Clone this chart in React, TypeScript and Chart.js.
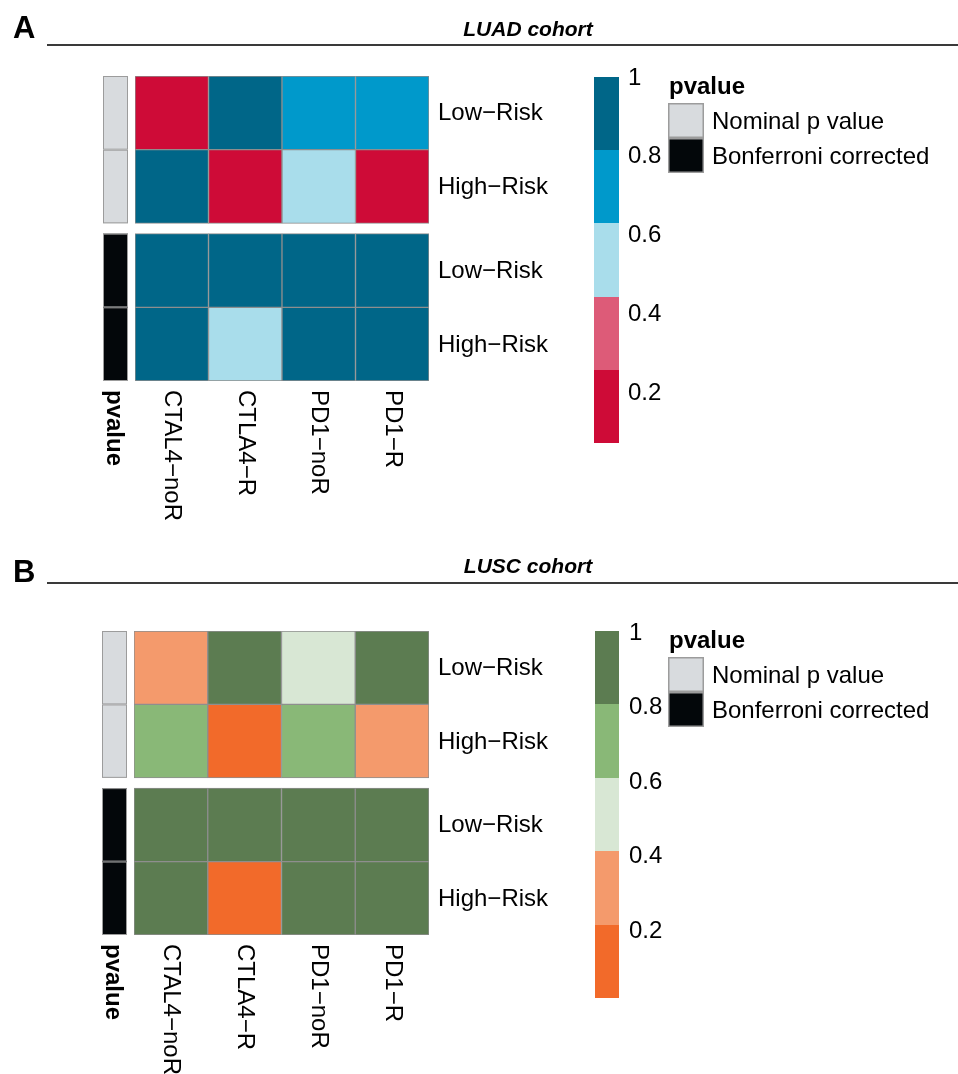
import React, { useEffect, useRef } from "react";
import { Chart, registerables } from "chart.js";

Chart.register(...registerables);

// ---------- data ----------
const columns = ["CTAL4−noR", "CTLA4−R", "PD1−noR", "PD1−R"];
const rowLabels = ["Low−Risk", "High−Risk", "Low−Risk", "High−Risk"];
const rowGroupIndex = [0, 0, 1, 1];
const groupNames = ["Nominal p value", "Bonferroni corrected"];
const annotationTitle = "pvalue";
const legendTickLabels = ["1", "0.8", "0.6", "0.4", "0.2"];
const legendBreaks = [0, 0.2, 0.4, 0.6, 0.8, 1];

// LUAD cohort p values (rows: nominal low, nominal high, bonferroni low, bonferroni high)
const luadNominalLow = [0.08, 0.91, 0.74, 0.69];
const luadNominalHigh = [0.88, 0.07, 0.57, 0.12];
const luadBonfLow = [1, 1, 1, 1];
const luadBonfHigh = [1, 0.56, 1, 1];

// LUSC cohort p values
const luscNominalLow = [0.33, 0.86, 0.52, 0.95];
const luscNominalHigh = [0.71, 0.02, 0.68, 0.27];
const luscBonfLow = [1, 1, 1, 1];
const luscBonfHigh = [1, 0.16, 1, 1];

// colour bins (0-0.2, 0.2-0.4, 0.4-0.6, 0.6-0.8, 0.8-1)
const luadColors = ["#CE0B37", "#DD5B78", "#A9DDEB", "#0099CB", "#006688"];
const luscColors = ["#F26A2A", "#F49A6C", "#D8E7D4", "#89B877", "#5C7C51"];
const groupColors = ["#D8DBDE", "#03070A"];

// ---------- layout (per panel) ----------
const W = 958;
const H = 537;
const FONT = "'Liberation Sans', Arial, Helvetica, sans-serif";

const layoutA = {
  letter: "A", title: "LUAD cohort",
  letterBaseline: 38, titleY: 30, lineY: 45,
  heatTop: 76, heatBottom: 381, heatLeft: 135, heatRight: 429,
  annLeft: 103, annRight: 128,
  barTop: 77, barHeight: 366, barLeft: 594, barRight: 619,
  tickStart: 78, tickStep: 78.8,
};
const layoutB = {
  letter: "B", title: "LUSC cohort",
  letterBaseline: 45, titleY: 30, lineY: 46,
  heatTop: 94, heatBottom: 398, heatLeft: 134, heatRight: 429,
  annLeft: 102, annRight: 127,
  barTop: 94, barHeight: 367, barLeft: 595, barRight: 619,
  tickStart: 96, tickStep: 74.5,
};

const GAP = 0.14; // gap between row groups, in row units
const rowStart = (r: number) => r + rowGroupIndex[r] * GAP;

function colorFor(v: number, palette: string[]) {
  for (let i = 0; i < palette.length; i++) {
    if (v < legendBreaks[i + 1]) return palette[i];
  }
  return palette[palette.length - 1];
}

function Panel({ rows, palette, layout }: { rows: number[][]; palette: string[]; layout: any }) {
  const ref = useRef<HTMLCanvasElement | null>(null);
  useEffect(() => {
    if (!ref.current) return;
    const L = layout;
    const decor = {
      id: "decor",
      afterDraw(chart: any) {
        const ctx = chart.ctx as CanvasRenderingContext2D;
        const x = chart.scales.x;
        const y = chart.scales.y;
        ctx.save();
        // panel letter
        ctx.fillStyle = "#000";
        ctx.font = `bold 31px ${FONT}`;
        ctx.textAlign = "left";
        ctx.textBaseline = "alphabetic";
        ctx.fillText(L.letter, 13, L.letterBaseline);
        // title
        ctx.font = `italic bold 21px ${FONT}`;
        ctx.textAlign = "center";
        ctx.textBaseline = "middle";
        ctx.fillText(L.title, 528, L.titleY);
        // rule
        ctx.strokeStyle = "#3a3a3a";
        ctx.lineWidth = 2;
        ctx.beginPath();
        ctx.moveTo(47, L.lineY);
        ctx.lineTo(W, L.lineY);
        ctx.stroke();

        // annotation column
        rows.forEach((_, r) => {
          const top = y.getPixelForValue(rowStart(r));
          const bot = y.getPixelForValue(rowStart(r) + 1);
          ctx.fillStyle = groupColors[rowGroupIndex[r]];
          ctx.fillRect(L.annLeft, top, L.annRight - L.annLeft, bot - top);
          ctx.strokeStyle = "#9C9C9C";
          ctx.lineWidth = 1;
          ctx.strokeRect(L.annLeft + 0.5, top + 0.5, L.annRight - L.annLeft - 1, bot - top - 1);
        });

        // row labels
        ctx.fillStyle = "#000";
        ctx.font = `24px ${FONT}`;
        ctx.textAlign = "left";
        ctx.textBaseline = "middle";
        rowLabels.forEach((lab, r) => {
          const c = y.getPixelForValue(rowStart(r) + 0.5);
          ctx.fillText(lab, L.heatRight + 9, c + 1);
        });

        // column labels (rotated, reading downward)
        const labTop = L.heatBottom + 9;
        columns.forEach((lab, i) => {
          const cx = x.getPixelForValue(i);
          ctx.save();
          ctx.translate(cx, labTop);
          ctx.rotate(Math.PI / 2);
          ctx.font = `24px ${FONT}`;
          ctx.textAlign = "left";
          ctx.textBaseline = "middle";
          ctx.fillText(lab, 0, 0);
          ctx.restore();
        });
        ctx.save();
        ctx.translate((L.annLeft + L.annRight) / 2 - 2, labTop);
        ctx.rotate(Math.PI / 2);
        ctx.font = `bold 24px ${FONT}`;
        ctx.textAlign = "left";
        ctx.textBaseline = "middle";
        ctx.fillText(annotationTitle, 0, 0);
        ctx.restore();

        // colour legend bar
        const segH = L.barHeight / palette.length;
        palette.forEach((col, i) => {
          const segTop = L.barTop + L.barHeight - (i + 1) * segH;
          ctx.fillStyle = col;
          ctx.fillRect(L.barLeft, Math.round(segTop), L.barRight - L.barLeft, Math.round(segTop + segH) - Math.round(segTop));
        });
        ctx.fillStyle = "#000";
        ctx.font = `24px ${FONT}`;
        ctx.textAlign = "left";
        ctx.textBaseline = "middle";
        legendTickLabels.forEach((t, i) => {
          ctx.fillText(t, L.barLeft + 34, L.tickStart + i * L.tickStep);
        });

        // pvalue legend
        const lt = L.barTop;
        ctx.font = `bold 24px ${FONT}`;
        ctx.fillText(annotationTitle, 669, lt + 10);
        groupNames.forEach((g, i) => {
          const bt = lt + 26 + i * 35;
          ctx.fillStyle = groupColors[i];
          ctx.fillRect(668, bt, 36, 35);
          ctx.strokeStyle = "#9C9C9C";
          ctx.lineWidth = 1.5;
          ctx.strokeRect(668.75, bt + 0.75, 34.5, 33.5);
          ctx.fillStyle = "#000";
          ctx.font = `24px ${FONT}`;
          ctx.fillText(g, 712, bt + 19);
        });
        ctx.restore();
      },
    };

    const chart = new Chart(ref.current, {
      type: "bar",
      data: {
        labels: columns,
        datasets: rows.map((vals, r) => ({
          label: rowLabels[r],
          data: vals.map(() => [rowStart(r), rowStart(r) + 1]) as any,
          backgroundColor: vals.map((v) => colorFor(v, palette)),
          borderColor: "#8E8E8E",
          borderWidth: 1,
          borderSkipped: false,
          barPercentage: 1,
          categoryPercentage: 1,
          grouped: false,
        })),
      },
      options: {
        responsive: false,
        maintainAspectRatio: false,
        animation: false,
        devicePixelRatio: 1,
        layout: {
          padding: {
            left: L.heatLeft,
            right: W - L.heatRight,
            top: L.heatTop,
            bottom: H - L.heatBottom,
          },
        },
        scales: {
          x: { type: "category", display: false, offset: true, grid: { display: false } },
          y: {
            type: "linear",
            display: false,
            min: 0,
            max: 4 + GAP,
            reverse: true,
            grid: { display: false },
          },
        },
        plugins: {
          legend: { display: false },
          tooltip: { enabled: false },
          title: { display: false },
        },
      },
      plugins: [decor],
    });
    return () => chart.destroy();
  }, [rows, palette, layout]);
  return <canvas ref={ref} width={W} height={H} style={{ display: "block", width: W, height: H }} />;
}

const luadRows = [luadNominalLow, luadNominalHigh, luadBonfLow, luadBonfHigh];
const luscRows = [luscNominalLow, luscNominalHigh, luscBonfLow, luscBonfHigh];

export default function App() {
  return (
    <div style={{ position: "absolute", left: 0, top: 0, width: W, height: 2 * H, background: "#fff" }}>
      <Panel rows={luadRows} palette={luadColors} layout={layoutA} />
      <Panel rows={luscRows} palette={luscColors} layout={layoutB} />
    </div>
  );
}
